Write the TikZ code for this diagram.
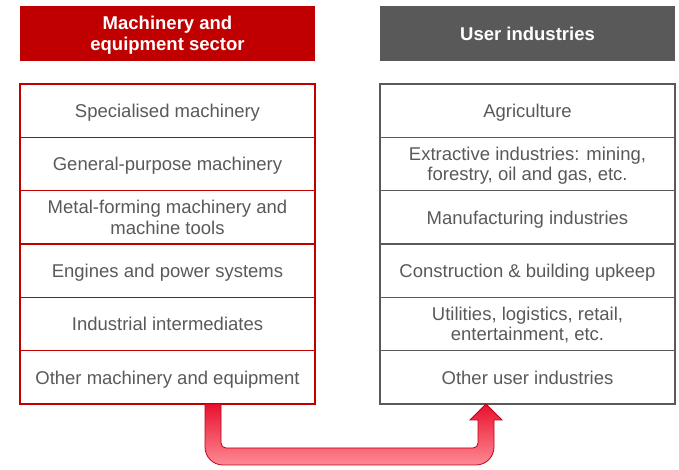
\documentclass[tikz,border=0pt]{standalone}
\usepackage{fontspec}
\setmainfont{Liberation Sans}
\usetikzlibrary{positioning,calc}

\definecolor{secred}{HTML}{C00000}
\definecolor{usergray}{HTML}{595959}
\definecolor{arrowred}{HTML}{E8112D}
\definecolor{arrowpink}{HTML}{FF8A94}
\definecolor{arrowline}{HTML}{C0001A}

\tikzset{
  head/.style={minimum width=295pt, minimum height=55pt, inner sep=0pt, outer sep=0pt,
    text=white, align=center, anchor=north west, text depth=0pt,
    font=\fontsize{18.5}{21}\selectfont\bfseries},
  cell/.style={draw, line width=1.3pt, minimum width=295pt, minimum height=53.33pt,
    inner sep=0pt, outer sep=0pt, text=usergray, align=center, text depth=0pt,
    font=\fontsize{18.5}{20.5}\selectfont},
}

\begin{document}
\begin{tikzpicture}[x=1pt, y=-1pt]
    \useasboundingbox (0,0) rectangle (679,469);

    % headers
    \node[head, fill=secred] (sector) at (20,6) {Machinery and\\equipment sector};
    \node[head, fill=usergray] (users) at (380,6) {User industries};

    % machinery and equipment
    \node[cell, draw=secred, anchor=north west] (l1) at (20,84) {Specialised machinery};
    \node[cell, draw=secred, below=0pt of l1] (l2) {General-purpose machinery};
    \node[cell, draw=secred, below=0pt of l2] (l3) {Metal-forming machinery and\\machine tools};
    \node[cell, draw=secred, below=0pt of l3] (l4) {Engines and power systems};
    \node[cell, draw=secred, below=0pt of l4] (l5) {Industrial intermediates};
    \node[cell, draw=secred, below=0pt of l5] (l6) {Other machinery and equipment};

    % user industries
    \node[cell, draw=usergray, anchor=north west] (r1) at (380,84) {Agriculture};
    \node[cell, draw=usergray, below=0pt of r1] (r2) {Extractive industries: mining,\\forestry, oil and gas, etc.};
    \node[cell, draw=usergray, below=0pt of r2] (r3) {Manufacturing industries};
    \node[cell, draw=usergray, below=0pt of r3] (r4) {Construction \& building upkeep};
    \node[cell, draw=usergray, below=0pt of r4] (r5) {Utilities, logistics, retail,\\entertainment, etc.};
    \node[cell, draw=usergray, below=0pt of r5] (r6) {Other user industries};

    % fat arrow from l6 to r6
    \coordinate (from) at ($(l6.south)+(45.5,0)$);
    \coordinate (to) at ($(r6.south)+(-41.5,0)$);
    \draw[arrowline, line width=0.8pt, top color=arrowred, bottom color=arrowpink]
      ($(from)+(-8,0)$) -- ++(0,43) .. controls +(0,10) and +(-10,0) .. ++(18,18)
      -- ++(253,0) .. controls +(10,0) and +(0,10) .. ++(18,-18)
      -- ++(0,-27) -- ++(8,0) -- (to) -- ++(-16,16) -- ++(8,0) -- ++(0,23)
      .. controls +(0,3) and +(3,0) .. ++(-5,5) -- ++(-247,0)
      .. controls +(-3,0) and +(0,3) .. ++(-5,-5) -- ++(0,-39) -- cycle;
\end{tikzpicture}
\end{document}
